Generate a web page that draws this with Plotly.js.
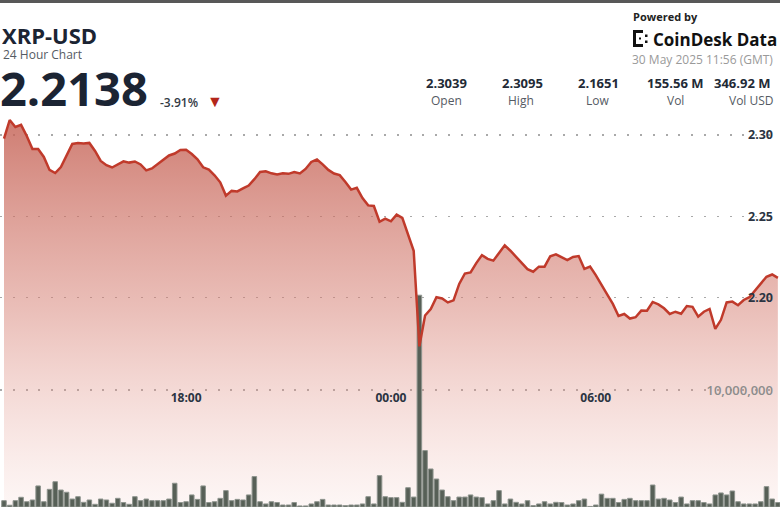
<!DOCTYPE html>
<html>
<head>
<meta charset="utf-8">
<script src="https://cdn.plot.ly/plotly-3.0.1.min.js"></script>
<style>
html,body{margin:0;padding:0;background:#fff;}
#chart{width:780px;height:507px;}
</style>
</head>
<body>
<div id="chart"></div>
<script>
// ---- DATA ----
var startTime = "2025-05-29T12:40:00";   // first 10-minute slot shown
var stepMinutes = 10;

var price = [
 2.2978, 2.3092, 2.3049, 2.3062, 2.2994, 2.2914, 2.2914, 2.2865, 2.2785, 2.2766,
 2.2803, 2.2877, 2.2945, 2.2951, 2.2948, 2.2951, 2.2902, 2.2840, 2.2814, 2.2800,
 2.2819, 2.2838, 2.2830, 2.2837, 2.2819, 2.2782, 2.2794, 2.2822, 2.2845, 2.2874,
 2.2886, 2.2908, 2.2909, 2.2883, 2.2850, 2.2801, 2.2787, 2.2752, 2.2709, 2.2627,
 2.2656, 2.2653, 2.2671, 2.2689, 2.2728, 2.2772, 2.2777, 2.2764, 2.2757, 2.2765,
 2.2761, 2.2772, 2.2763, 2.2791, 2.2834, 2.2849, 2.2819, 2.2785, 2.2763, 2.2753,
 2.2711, 2.2664, 2.2675, 2.2612, 2.2567, 2.2563, 2.2466, 2.2486, 2.2469, 2.2510,
 2.2490, 2.2391, 2.2288, 2.1700, 2.1890, 2.1930, 2.2002, 2.1994, 2.1970, 2.1983,
 2.2084, 2.2148, 2.2155, 2.2212, 2.2261, 2.2238, 2.2227, 2.2274, 2.2321, 2.2288,
 2.2251, 2.2214, 2.2175, 2.2159, 2.2190, 2.2190, 2.2254, 2.2266, 2.2250, 2.2231,
 2.2250, 2.2255, 2.2176, 2.2191, 2.2138, 2.2074, 2.2019, 2.1961, 2.1887, 2.1899,
 2.1871, 2.1879, 2.1920, 2.1919, 2.1973, 2.1958, 2.1934, 2.1899, 2.1913, 2.1901,
 2.1948, 2.1943, 2.1883, 2.1913, 2.1930, 2.1807, 2.1863, 2.1970, 2.1975, 2.1953,
 2.1985, 2.2002, 2.2045, 2.2090, 2.2128, 2.2142, 2.2121
];

// volume per 10-minute slot, in millions of XRP
var volumeM = [
 0.54, 0.15, 0.54, 0.83, 0.45, 0.60, 1.80, 0.45, 1.51, 2.16,
 1.45, 1.26, 0.68, 0.88, 0.40, 0.60, 0.23, 0.68, 0.60, 0.32,
 0.74, 0.38, 0.23, 0.88, 0.54, 0.68, 0.54, 0.54, 0.54, 0.68,
 2.03, 0.38, 0.45, 1.03, 0.65, 1.80, 0.38, 0.45, 0.74, 1.40,
 0.54, 0.65, 0.60, 1.03, 2.60, 0.45,
 0.26, 0.45, 0.38, 0.17, 0.17, 0.38, 0.09, 0.09, 0.26, 0.45,
 0.65, 0.17, 0.17, 0.17, 0.12, 0.17, 0.17, 0.26, 0.88, 0.26,
 2.68, 0.88, 0.80, 0.80, 0.40, 1.65, 0.85, 18.10, 4.82, 3.25,
 2.39, 1.45, 0.88, 0.54, 0.85, 0.85, 1.03, 0.85, 0.80, 0.26,
 0.54, 1.40, 0.26, 0.68, 0.40,
 0.26, 0.54, 0.12, 0.26, 0.45, 0.26, 0.40, 0.38, 0.17, 0.26,
 0.54, 0.68, 0.05, 0.17, 1.10, 0.74, 0.74, 0.38, 0.65, 0.74,
 0.54, 0.54, 0.54, 1.88, 0.68, 0.74, 0.60, 0.38, 0.85, 0.26,
 0.54, 0.54, 0.38, 0.26, 1.03, 1.20, 1.03, 1.37, 0.45, 0.26,
 0.26, 0.26, 0.45, 1.74, 0.68, 0.38
];

var timeTickVals = ["2025-05-29 18:00", "2025-05-30 00:00", "2025-05-30 06:00"];
var timeTickText = ["18:00", "00:00", "06:00"];
var priceTickVals = [2.20, 2.25, 2.30];
var priceTickText = ["2.20", "2.25", "2.30"];
var volTickVals = [10];
var volTickText = ["10,000,000"];

var headerSymbol = "XRP-USD";
var headerSub = "24 Hour Chart";
var lastPrice = "2.2138";
var changePct = "-3.91%";
var statValues = ["2.3039", "2.3095", "2.1651", "155.56 M", "346.92 M"];
var statLabels = ["Open", "High", "Low", "Vol", "Vol USD"];
var stampText = "30 May 2025 11:56 (GMT)";

// ---- BUILD ----
function pad(n){return (n<10?"0":"")+n;}
var t0 = new Date(startTime + "Z").getTime();
var times = price.map(function(_, i){
  var d = new Date(t0 + i*stepMinutes*60000);
  return d.getUTCFullYear()+"-"+pad(d.getUTCMonth()+1)+"-"+pad(d.getUTCDate())+" "+pad(d.getUTCHours())+":"+pad(d.getUTCMinutes());
});

var W = 780, H = 507;
function px(x){return x/W;}
function py(y){return 1 - y/H;}

var priceRange = [2.0712, 2.3830];
var volRange = [0, 43.33];
var xRange = ["2025-05-29 12:32:58", "2025-05-30 11:23:46"];
var FONT = "Open Sans, Noto Sans, sans-serif";
var DARK = "#1b2433";

var fillTrace = {
  x: times, y: price, type: "scatter", mode: "lines",
  xaxis: "x", yaxis: "y",
  line: {width: 0, color: "rgba(0,0,0,0)"},
  fill: "tozeroy",
  fillgradient: {
    type: "vertical", start: 2.0712, stop: 2.31,
    colorscale: [[0, "rgba(236,170,160,0.10)"], [0.5, "rgba(214,128,116,0.50)"], [1, "rgba(196,96,83,0.82)"]]
  },
  hoverinfo: "skip", showlegend: false
};

var volTrace = {
  x: times, y: volumeM, type: "bar",
  xaxis: "x", yaxis: "y2",
  marker: {color: "#576057", line: {color: "#8e948e", width: 1}},
  hoverinfo: "skip", showlegend: false
};

var lineTrace = {
  x: times, y: price, type: "scatter", mode: "lines",
  xaxis: "x", yaxis: "y3",
  line: {color: "#c03a2b", width: 2.5},
  hoverinfo: "skip", showlegend: false
};

var gridDash = "2px,10.8px";

var annotations = [];
function ann(text, x, y, size, color, weight, xanchor, boxH){
  var a = {
    text: text, xref: "paper", yref: "paper", x: px(x), y: py(y),
    xanchor: xanchor || "left", yanchor: "middle", showarrow: false,
    font: {family: FONT, size: size, color: color, weight: weight || "normal"}
  };
  if (boxH) { a.height = boxH; a.valign = "middle"; }
  annotations.push(a);
}
ann(headerSymbol, 0, 35, 22, DARK, "bold", "left", 24);
ann(headerSub, 1, 54, 12, "#555b63", "normal", "left", 14);
ann(lastPrice, -2, 88, 47, DARK, "bold", "left", 46);
ann(changePct, 158, 102, 12, "#333a45", 600);
ann("▼", 205, 101, 16, "#b3261a");
ann("Powered by", 631, 17, 11, "#222", "bold");
ann("CoinDesk Data", 651, 40, 17, "#111", "bold");
ann(stampText, 630, 60, 12, "#9a9a9a");
var statCenters = [447, 522, 598, 675, 742];
var labelCenters = [447, 521, 597, 675, 751];
for (var i = 0; i < statValues.length; i++){
  ann(statValues[i], statCenters[i], 83, 13, "#222a36", "bold", "center");
  ann(statLabels[i], labelCenters[i], 100, 12, "#555b63", "normal", "center");
}

var shapes = [
  {type: "rect", xref: "paper", yref: "paper", x0: 0, x1: 1, y0: py(3), y1: 1, fillcolor: "#585858", line: {width: 0}},
  // CoinDesk logo icon (bracket + dots)
  {type: "rect", xref: "paper", yref: "paper", x0: px(633), x1: px(636), y0: py(47), y1: py(30), fillcolor: "#111", line: {width: 0}},
  {type: "rect", xref: "paper", yref: "paper", x0: px(633), x1: px(643), y0: py(33), y1: py(30), fillcolor: "#111", line: {width: 0}},
  {type: "rect", xref: "paper", yref: "paper", x0: px(633), x1: px(643), y0: py(47), y1: py(44), fillcolor: "#111", line: {width: 0}},
  {type: "rect", xref: "paper", yref: "paper", x0: px(639), x1: px(641), y0: py(39.5), y1: py(37.5), fillcolor: "#111", line: {width: 0}},
  {type: "rect", xref: "paper", yref: "paper", x0: px(645), x1: px(647.5), y0: py(37), y1: py(34.5), fillcolor: "#111", line: {width: 0}},
  {type: "rect", xref: "paper", yref: "paper", x0: px(645), x1: px(647.5), y0: py(43), y1: py(40.5), fillcolor: "#111", line: {width: 0}}
];

var layout = {
  width: W, height: H,
  margin: {l: 0, r: 0, t: 0, b: 0, pad: 0},
  paper_bgcolor: "#ffffff", plot_bgcolor: "#ffffff",
  font: {family: FONT},
  bargap: 0.2,
  showlegend: false,
  xaxis: {
    type: "date", range: xRange, fixedrange: true,
    anchor: "free", position: py(389),
    tickvals: timeTickVals, ticktext: timeTickText,
    ticks: "", ticklabelstandoff: 0,
    tickfont: {family: FONT, size: 12, color: "#2b3442", weight: "bold"},
    showgrid: false, zeroline: false, showline: false
  },
  yaxis: {
    range: priceRange, side: "right", fixedrange: true,
    tickvals: priceTickVals, ticktext: priceTickText,
    ticklabelposition: "inside", ticklabelstandoff: 4, ticks: "",
    tickfont: {family: FONT, size: 12.5, color: "#2b3442", weight: "bold"},
    showgrid: true, gridcolor: "rgba(140,140,140,0.75)", gridwidth: 1.5, griddash: gridDash,
    zeroline: false, showline: false
  },
  yaxis2: {
    range: volRange, overlaying: "y", side: "right", fixedrange: true,
    tickvals: volTickVals, ticktext: volTickText,
    ticklabelposition: "inside", ticklabelstandoff: 4, ticks: "",
    tickfont: {family: FONT, size: 13, color: "#8c8c8c", weight: 600},
    showgrid: true, gridcolor: "rgba(140,140,140,0.75)", gridwidth: 1.5, griddash: gridDash,
    zeroline: false, showline: false
  },
  yaxis3: {
    range: priceRange, overlaying: "y", visible: false, fixedrange: true
  },
  annotations: annotations,
  shapes: shapes
};

Plotly.newPlot("chart", [fillTrace, volTrace, lineTrace], layout, {displayModeBar: false, staticPlot: true});
</script>
</body>
</html>
